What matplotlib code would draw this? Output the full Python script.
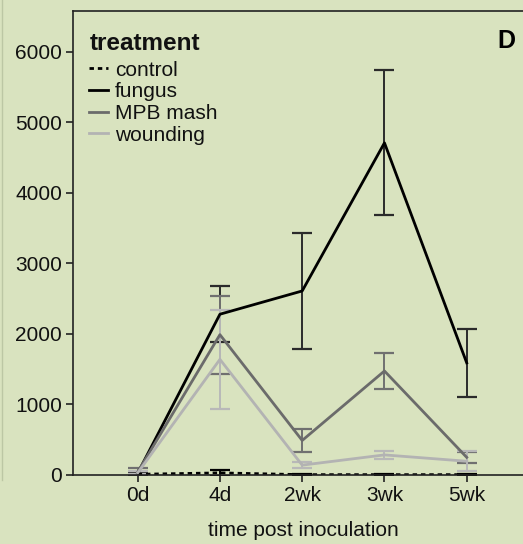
import matplotlib
matplotlib.use("Agg")
import matplotlib.pyplot as plt
from matplotlib.lines import Line2D

plt.rcParams['font.family'] = ['Liberation Sans', 'DejaVu Sans']

# data
timepoints = ["0d", "4d", "2wk", "3wk", "5wk"]
treatments = ["control", "fungus", "MPB mash", "wounding"]

control = [10, 30, 5, 5, 5]
control_err = [10, 40, 5, 5, 5]
fungus = [25, 2280, 2610, 4710, 1590]
fungus_err = [20, 400, 820, 1030, 480]
mash = [40, 1990, 490, 1475, 250]
mash_err = [65, 555, 160, 260, 75]
wounding = [30, 1640, 140, 285, 195]
wounding_err = [20, 700, 45, 60, 145]

bg = "#d9e3bf"
line_colors = ["black", "black", "#6b6b6b", "#b3b3b3"]
err_colors = ["black", "#2b2b2b", "#707070", "#b8b8b8"]
styles = [(0, (1.6, 1.4)), "-", "-", "-"]

fig = plt.figure(figsize=(5.23, 5.44), dpi=100, facecolor=bg)
ax = fig.add_axes([73 / 523, 1 - 475 / 544, (533 - 73) / 523, (475 - 11) / 544])
ax.set_facecolor(bg)

x = list(range(len(timepoints)))
series = [control, fungus, mash, wounding]
errors = [control_err, fungus_err, mash_err, wounding_err]
for vals, errs, name, lc, ec, ls in zip(series, errors, treatments, line_colors, err_colors, styles):
    ax.errorbar(x, vals, yerr=errs, color=lc, ecolor=ec, linestyle=ls, lw=2.0,
                elinewidth=1.4, capsize=7.5, capthick=1.6, label=name)

ax.set_xlim(-0.786, 4 + (533 - 466.7) / 82.3)
ax.set_ylim(0, 6580)
ax.set_xticks(x)
ax.set_xticklabels(timepoints)
ax.set_yticks([0, 1000, 2000, 3000, 4000, 5000, 6000])
ax.tick_params(labelsize=15, length=5, width=1.2, color="#222222", labelcolor="#111111", pad=3)
ax.set_xlabel("time post inoculation", fontsize=15, color="#111111", labelpad=9)
ax.xaxis.set_label_coords((303 - 73) / (533 - 73), -0.1)

for side in ["left", "bottom", "top"]:
    ax.spines[side].set_linewidth(1.2)
    ax.spines[side].set_color("#222222")
ax.spines["right"].set_visible(False)

# legend title drawn separately to get the reference spacing
fig.text(90 / 523, 1 - 43 / 544, "treatment", fontsize=17.5, fontweight="bold",
         va="center", ha="left", color="#111111")
handles = [Line2D([0], [0], color=lc, linestyle=ls, lw=2.0) for lc, ls in zip(line_colors, styles)]
leg = ax.legend(handles, treatments, loc="upper left",
                bbox_to_anchor=((89 - 73) / 460, (475 - 60.5) / 464), frameon=False, fontsize=15,
                handlelength=0.9, handletextpad=0.35, labelspacing=0.13,
                borderaxespad=0, borderpad=0)
for t in leg.get_texts():
    t.set_color("#111111")

fig.text(497 / 523, 1 - 41 / 544, "D", fontsize=18, fontweight="bold", va="center", ha="left")
fig.add_artist(Line2D([2 / 523, 2 / 523], [1 - 480 / 544, 1.0], color="#bcc7a4", lw=1.0))

fig.savefig("out.png", dpi=100, facecolor=bg)
